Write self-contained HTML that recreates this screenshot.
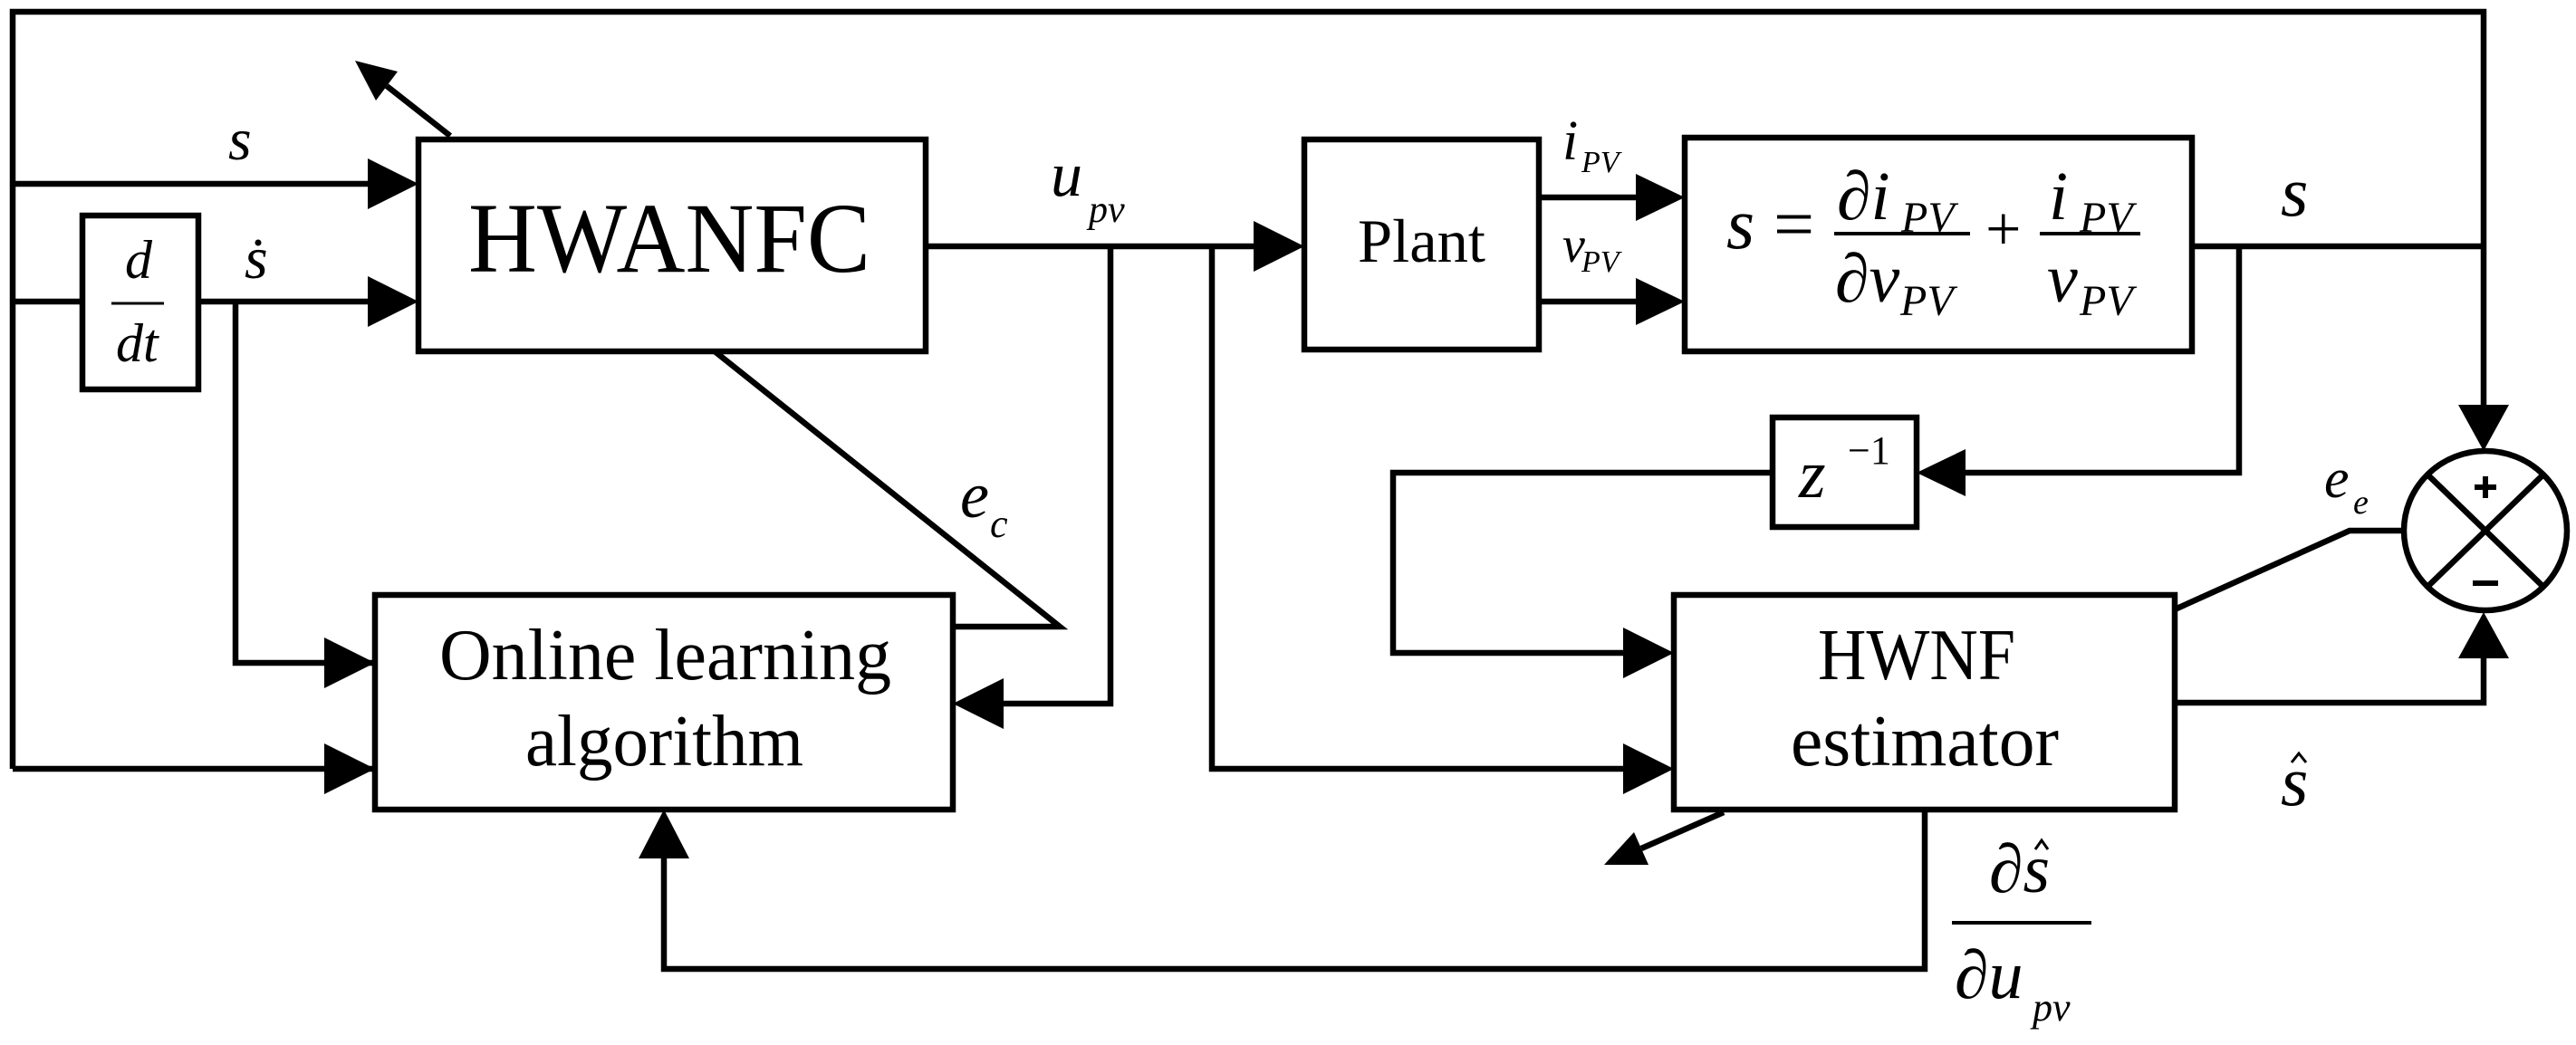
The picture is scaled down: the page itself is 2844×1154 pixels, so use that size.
<!DOCTYPE html>
<html><head><meta charset="utf-8"><style>
html,body{margin:0;padding:0;background:#fff;}
svg{display:block;}
svg text{font-family:"Liberation Serif","Times New Roman","Nimbus Roman","Nimbus Roman No9 L",Times,serif;fill:#000;}
.i{font-style:italic;}
</style></head><body>
<svg width="2844" height="1154" viewBox="0 0 2844 1154" xmlns="http://www.w3.org/2000/svg" font-family="Liberation Serif, Times New Roman, serif">
<g fill="none" stroke="#000" stroke-width="6.5" stroke-linejoin="miter">
<rect x="462" y="154" width="560" height="234"/>
<rect x="91" y="238" width="128" height="192"/>
<rect x="414" y="657" width="638" height="237"/>
<rect x="1440" y="154" width="259" height="232"/>
<rect x="1860" y="152" width="560" height="236"/>
<rect x="1957" y="461" width="159" height="121"/>
<rect x="1848" y="657" width="553" height="237"/>
<ellipse cx="2744" cy="586" rx="90" ry="88"/>
<line x1="2680" y1="524" x2="2808" y2="648"/>
<line x1="2808" y1="524" x2="2680" y2="648"/>
<polyline points="14,849 14,13 2742,13 2742,450"/>
<line x1="14" y1="203" x2="412" y2="203"/>
<line x1="14" y1="333" x2="91" y2="333"/>
<line x1="219" y1="333" x2="412" y2="333"/>
<polyline points="260,333 260,732 412,732"/>
<line x1="14" y1="849" x2="412" y2="849"/>
<line x1="1022" y1="272" x2="1390" y2="272"/>
<polyline points="1226,272 1226,777 1104,777"/>
<polyline points="1338,272 1338,849 1800,849"/>
<polyline points="789,388 1170,692 1052,692"/>
<line x1="1699" y1="218" x2="1810" y2="218"/>
<line x1="1699" y1="333" x2="1810" y2="333"/>
<line x1="2420" y1="272" x2="2742" y2="272"/>
<polyline points="2472,272 2472,522 2166,522"/>
<polyline points="1957,522 1538,522 1538,721 1800,721"/>
<polyline points="2401,673 2594,586 2654,586"/>
<polyline points="2401,776 2742,776 2742,725"/>
<polyline points="2125,894 2125,1070 733,1070 733,946"/>
<line x1="497" y1="150" x2="427" y2="95"/>
<line x1="1903" y1="897" x2="1812" y2="937"/>
</g>
<g fill="#000">
<polygon points="406,175 462,203 406,231"/>
<polygon points="406,305 462,333 406,361"/>
<polygon points="358,704 414,732 358,760"/>
<polygon points="358,821 414,849 358,877"/>
<polygon points="1108,749 1052,777 1108,805"/>
<polygon points="1384,244 1440,272 1384,300"/>
<polygon points="1806,192 1860,218 1806,244"/>
<polygon points="1806,307 1860,333 1806,359"/>
<polygon points="2170,496 2116,522 2170,548"/>
<polygon points="1792,693 1848,721 1792,749"/>
<polygon points="1792,821 1848,849 1792,877"/>
<polygon points="2714,447 2742,498 2770,447"/>
<polygon points="2714,727 2742,676 2770,727"/>
<polygon points="705,948 733,894 761,948"/>
<polygon points="392,67 439,79 415,111"/>
<polygon points="1771,955 1820,955 1804,919"/>
<rect x="2732" y="535" width="24" height="6"/>
<rect x="2741" y="526" width="6" height="24"/>
<rect x="2730" y="641" width="28" height="6"/>
<circle cx="285" cy="268" r="3.5"/>
</g>
<g fill="none" stroke="#000" stroke-width="3">
<polyline points="2530,842 2538,832 2546,842"/>
<polyline points="2247,938 2254,928 2261,938"/>
</g>
<text x="517" y="300" font-size="110" textLength="444" lengthAdjust="spacingAndGlyphs">HWANFC</text>
<text x="485" y="750" font-size="80" textLength="499" lengthAdjust="spacingAndGlyphs">Online learning</text>
<text x="580" y="845" font-size="80" textLength="307" lengthAdjust="spacingAndGlyphs">algorithm</text>
<text x="1499" y="289" font-size="68" textLength="141" lengthAdjust="spacingAndGlyphs">Plant</text>
<text x="2007" y="750" font-size="80" textLength="218" lengthAdjust="spacingAndGlyphs">HWNF</text>
<text x="1977" y="845" font-size="80" textLength="296" lengthAdjust="spacingAndGlyphs">estimator</text>
<text x="1906" y="274" font-size="80" class="i">s</text>
<text x="1958" y="274" font-size="80">=</text>
<text x="2028" y="242" font-size="76" class="i">∂i</text>
<text x="2099" y="256" font-size="48" class="i">PV</text>
<line x1="2025" y1="258" x2="2175" y2="258" stroke="#000" stroke-width="4"/>
<text x="2026" y="333" font-size="76" class="i">∂v</text>
<text x="2098" y="348" font-size="48" class="i">PV</text>
<text x="2192" y="276" font-size="70">+</text>
<text x="2262" y="242" font-size="76" class="i">i</text>
<text x="2296" y="256" font-size="48" class="i">PV</text>
<line x1="2252" y1="258" x2="2363" y2="258" stroke="#000" stroke-width="4"/>
<text x="2260" y="333" font-size="76" class="i">v</text>
<text x="2296" y="348" font-size="48" class="i">PV</text>
<text x="1986" y="549" font-size="76" class="i">z</text>
<text x="2040" y="512" font-size="44">−1</text>
<text x="138" y="307" font-size="60" class="i">d</text>
<line x1="123" y1="335" x2="181" y2="335" stroke="#000" stroke-width="3"/>
<text x="128" y="399" font-size="60" class="i">dt</text>
<text x="252" y="176" font-size="66" class="i">s</text>
<text x="270" y="307" font-size="66" class="i">s</text>
<text x="1160" y="216" font-size="70" class="i">u</text>
<text x="1202" y="245" font-size="42" class="i">pv</text>
<text x="1060" y="571" font-size="72" class="i">e</text>
<text x="1093" y="593" font-size="44" class="i">c</text>
<text x="1725" y="176" font-size="62" class="i">i</text>
<text x="1746" y="190" font-size="34" class="i">PV</text>
<text x="1725" y="289" font-size="56" class="i">v</text>
<text x="1746" y="300" font-size="34" class="i">PV</text>
<text x="2566" y="549" font-size="62" class="i">e</text>
<text x="2598" y="567" font-size="38" class="i">e</text>
<text x="2518" y="238" font-size="78" class="i">s</text>
<text x="2518" y="889" font-size="78" class="i">s</text>
<text x="2196" y="985" font-size="76" class="i">∂s</text>
<line x1="2155" y1="1019" x2="2309" y2="1019" stroke="#000" stroke-width="4"/>
<text x="2158" y="1102" font-size="76" class="i">∂u</text>
<text x="2244" y="1127" font-size="44" class="i">pv</text>
</svg>
</body></html>
